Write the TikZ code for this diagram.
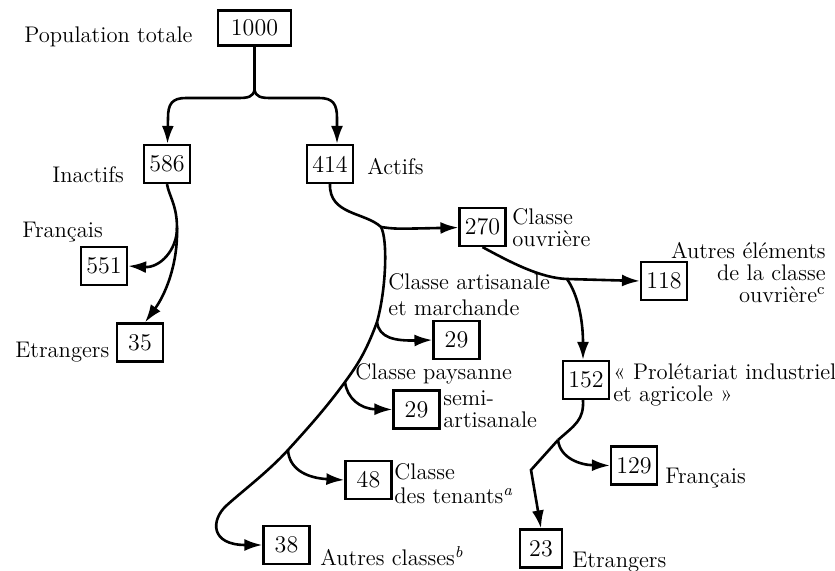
\documentclass[tikz,border=0pt]{standalone}
\usetikzlibrary{arrows.meta}
\tikzset{>={Latex[length=9pt,width=6pt]}}
\tikzset{
  box/.style={draw,line width=1.1pt,minimum width=23pt,minimum height=19pt,inner sep=1pt,font=\fontsize{12}{14}\selectfont},
  lbl/.style={inner sep=0pt,font=\fontsize{11.3}{11}\selectfont},
  link/.style={line width=1.3pt},
}

\begin{document}
\begin{tikzpicture}[x=0.5pt,y=-0.5pt]
  \useasboundingbox (0,0) rectangle (835,571);
  % boxes
  \node[box,minimum width=36.5pt,minimum height=17.5pt] (n1000) at (254.5,28) {1000};
  \node[box] (n586) at (167,164) {586};
  \node[box] (n414) at (330,164) {414};
  \node[box] (n551) at (104,266) {551};
  \node[box] (n35) at (140,342.5) {35};
  \node[box] (n270) at (482.5,227) {270};
  \node[box] (n118) at (664,281) {118};
  \node[box] (n29a) at (456.5,340) {29};
  \node[box] (n29b) at (416.5,409.5) {29};
  \node[box] (n48) at (368.5,480) {48};
  \node[box] (n38) at (286.5,545) {38};
  \node[box] (n152) at (586,380) {152};
  \node[box] (n129) at (634,465.5) {129};
  \node[box,minimum width=21pt] (n23) at (541,548.5) {23};
  % labels
  \node[lbl,anchor=base west] (lpop) at (24,43) {Population totale};
  \node[lbl,anchor=base west] (linact) at (52,183) {Inactifs};
  \node[lbl,anchor=base west] (lact) at (367,175) {Actifs};
  \node[lbl,anchor=base west] (lfra) at (22,238) {Français};
  \node[lbl,anchor=base west] (letr) at (15,358) {Etrangers};
  \node[lbl,anchor=north west,align=left] (louv) at (512,208) {Classe\\ouvrière};
  \node[lbl,anchor=north east,align=right] (lelem) at (826,242) {Autres éléments\\de la classe\\ouvrière\textsuperscript{c}};
  \node[lbl,anchor=north west,align=left] (lart) at (388,273) {Classe artisanale\\[2pt]et marchande};
  \node[lbl,anchor=base west] (lpay) at (355,380) {Classe paysanne};
  \node[lbl,anchor=north west,align=left] (lsemi) at (443,390) {semi-\\artisanale};
  \node[lbl,anchor=north west,align=left] (lten) at (394,463) {Classe\\[1pt]des tenants\textsuperscript{\itshape a}};
  \node[lbl,anchor=base west] (laut) at (320,565) {Autres classes\textsuperscript{\itshape b}};
  \node[lbl,anchor=north west,align=left] (lpro) at (613,363) {« Prolétariat industriel\\et agricole »};
  \node[lbl,anchor=base west] (lfrb) at (665,483) {Français};
  \node[lbl,anchor=base west] (letb) at (572,567) {Etrangers};
  % branch points
  \coordinate (fork) at (254.5,90);
  \coordinate (inak) at (177,228);
  \coordinate (akt) at (381,227);
  \coordinate (k1) at (377,322);
  \coordinate (k2) at (345,382);
  \coordinate (k3) at (288,450);
  \coordinate (o1) at (567,279);
  \coordinate (p1) at (558,440);
  % total
  \draw[link] (n1000) -- (fork);
  \draw[link,->] (fork) .. controls (253,97) and (248,98) .. (238,98) -- (186,98)
    .. controls (172,98) and (168,104) .. (168,118) -- (n586);
  \draw[link,->] (fork) .. controls (256,97) and (261,98) .. (271,98) -- (319,98)
    .. controls (333,98) and (337,104) .. (337,118) -- (337,118 |- n414.north);
  % inactifs
  \draw[link] (n586.south) .. controls (169,196) and (177,205) .. (inak);
  \draw[link,->] (inak) .. controls (177,250) and (160,268) .. (n551.east);
  \draw[link,->] (inak) .. controls (178,265) and (165,295) .. (145,322 |- n35.north);
  % actifs
  \draw[link] (n414.south) .. controls (329,215) and (365,212) .. (akt);
  \draw[link,->] (akt) .. controls (395,229) .. (n270);
  \draw[link,->] (akt) .. controls (388,240) and (386,290) .. (k1)
    .. controls (365,355) and (355,368) .. (k2)
    .. controls (326,408) and (308,428) .. (k3)
    .. controls (268,472) and (240,493) .. (226,506)
    .. controls (211,520) and (210,545) .. (n38.west);
  \draw[link,->] (k1) .. controls (379,338) and (395,341) .. (n29a.west);
  \draw[link,->] (k2) .. controls (347,398) and (360,409) .. (n29b.west);
  \draw[link,->] (k3) .. controls (289,468) and (305,478) .. (n48.west);
  % classe ouvriere
  \draw[link] (n270.south) .. controls (510,262) and (540,278) .. (o1);
  \draw[link,->] (o1) -- (n118.west);
  \draw[link,->] (o1) .. controls (578,295) and (583,320) .. (583,322 |- n152.north);
  % proletariat
  \draw[link] (583,400 |- n152.south) .. controls (584,420) and (575,425) .. (p1);
  \draw[link,->] (p1) .. controls (560,458) and (580,465) .. (n129.west);
  \draw[link,->] (p1) -- (531,470) -- (n23.north);
\end{tikzpicture}
\end{document}
